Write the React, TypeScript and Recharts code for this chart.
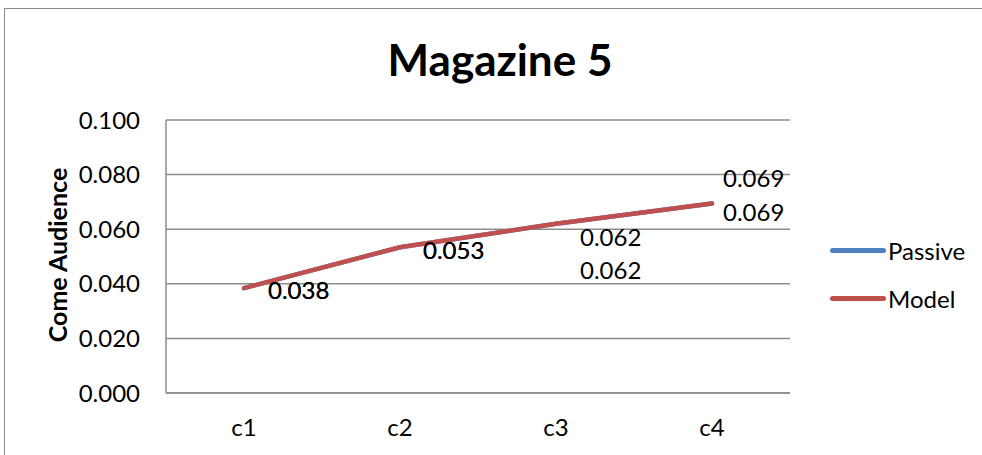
import React from "react";
import { LineChart, Line, XAxis, YAxis, CartesianGrid, LabelList } from "recharts";

const categories = ["c1", "c2", "c3", "c4"];
const passiveValues = [0.0384, 0.0534, 0.062, 0.0694];
const modelValues = [0.0384, 0.0534, 0.062, 0.0694];
const yTicks = [0, 0.02, 0.04, 0.06, 0.08, 0.1];

const data = categories.map((c, i) => ({ name: c, Passive: passiveValues[i], Model: modelValues[i] }));

const FONT = "Lato, 'Open Sans', sans-serif";
const BLUE = "#4F81BD";
const RED = "#C0504D";
const GRID = "#8c8c8c";
const FS = 24;

const labelDx = [24, 23, 24, 11];
const passiveLabelDy = [1, 2, 13, -26];
const modelLabelDy = [1, 2, 46, 8];

const makeLabel = (dys: number[]) => (props: any) => {
  const { x, y, value, index } = props;
  return (
    <text x={x + labelDx[index]} y={y + dys[index]} dominantBaseline="central" fontSize={FS} fontFamily={FONT} fill="#000">
      {Number(value).toFixed(3)}
    </text>
  );
};

export default function App() {
  return (
    <div style={{ position: "absolute", left: 0, top: 0, width: 982, height: 455, background: "#fff", overflow: "hidden" }}>
      <div style={{ position: "absolute", left: 4, top: 8, width: 990, height: 460, border: "1px solid #8c8c8c", boxSizing: "border-box" }} />
      <div style={{ position: "absolute", left: 0, top: 33, width: 1000, textAlign: "center", fontFamily: FONT, fontWeight: 700, fontSize: 44, color: "#000" }}>
        Magazine 5
      </div>
      <div style={{ position: "absolute", left: 57, top: 255, transform: "translate(-50%, -50%) rotate(-90deg)", fontFamily: FONT, fontWeight: 700, fontSize: 25, whiteSpace: "nowrap", color: "#000" }}>
        Come Audience
      </div>
      <div style={{ position: "absolute", left: 830, top: 235, fontFamily: FONT, fontSize: FS, color: "#000" }}>
        {[{ n: "Passive", c: BLUE }, { n: "Model", c: RED }].map((it) => (
          <div key={it.n} style={{ display: "flex", alignItems: "center", height: 30, marginBottom: 18 }}>
            <span style={{ display: "inline-block", width: 56, height: 5, borderRadius: 3, background: it.c, marginRight: 2 }} />
            <span>{it.n}</span>
          </div>
        ))}
      </div>
      <div style={{ position: "absolute", left: 0, top: 0 }}>
        <LineChart width={982} height={455} data={data} margin={{ top: 120, right: 192, bottom: 22, left: 66 }}>
          <CartesianGrid vertical={false} stroke={GRID} strokeWidth={1.5} />
          <XAxis
            dataKey="name"
            tickLine={false}
            axisLine={{ stroke: GRID, strokeWidth: 1.5 }}
            height={40}
            padding={{ left: 78, right: 78 }}
            tick={{ fontSize: FS, fontFamily: FONT, fill: "#000", dy: 18 }}
          />
          <YAxis
            domain={[0, 0.1]}
            ticks={yTicks}
            tickFormatter={(v: number) => v.toFixed(3)}
            tickLine={false}
            axisLine={{ stroke: GRID, strokeWidth: 1.5 }}
            width={100}
            tick={{ fontSize: FS, fontFamily: FONT, fill: "#000", dx: -18 }}
            interval={0}
          />
          <Line type="linear" dataKey="Passive" stroke={BLUE} strokeWidth={4.5} dot={false} isAnimationActive={false} strokeLinecap="round">
            <LabelList dataKey="Passive" content={makeLabel(passiveLabelDy)} />
          </Line>
          <Line type="linear" dataKey="Model" stroke={RED} strokeWidth={4.5} dot={false} isAnimationActive={false} strokeLinecap="round">
            <LabelList dataKey="Model" content={makeLabel(modelLabelDy)} />
          </Line>
        </LineChart>
      </div>
    </div>
  );
}
